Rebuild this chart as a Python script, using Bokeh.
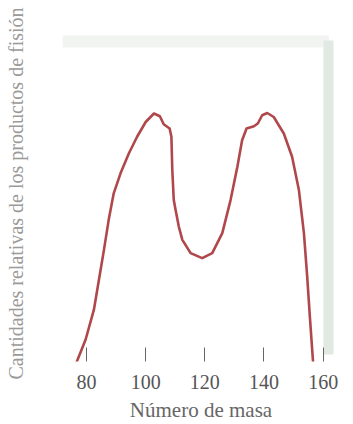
from bokeh.plotting import figure
from bokeh.models import FixedTicker, Range1d, BoxAnnotation
from bokeh.embed import file_html
from bokeh.resources import INLINE

# --- data ---
mass = [76.6, 79.7, 82.5, 84.2, 85.9, 87.5, 89.2, 91.5, 94.3, 97.1, 100.0,
        102.8, 104.8, 106.1, 108.1, 108.7, 109.0, 109.5, 110.1, 111.2, 112.4,
        115.2, 119.1, 122.5, 125.9, 128.7, 131.0, 132.6, 134.1, 136.6, 137.9,
        139.4, 141.1, 143.3, 146.7, 149.5, 151.8, 153.5, 154.6, 155.5, 156.6]
amount = [0.0, 9.2, 21.1, 33.1, 45.0, 57.0, 67.6, 75.6, 83.5, 90.2, 96.1,
          99.5, 98.4, 95.2, 93.5, 90.2, 77.0, 64.9, 61.0, 54.3, 49.0,
          43.7, 41.7, 43.7, 51.7, 64.9, 78.2, 88.8, 93.5, 94.4, 95.5,
          98.8, 99.7, 98.1, 91.5, 82.2, 68.9, 51.7, 34.4, 18.4, 0.0]
tick_values = [80, 100, 120, 140, 160]

SERIF = "Liberation Serif"

p = figure(width=353, height=424, output_backend="svg", toolbar_location=None,
           x_range=Range1d(70.53, 166.88), y_range=Range1d(0.4, 134.66),
           min_border_left=58, min_border_right=10, min_border_top=25,
           min_border_bottom=62)
p.outline_line_color = None
p.grid.visible = False
p.background_fill_color = "white"
p.border_fill_color = "white"

# faint background panel edges
p.add_layout(BoxAnnotation(left=71.9, right=162.0, bottom=125.9, top=130.7,
                           fill_color="#f1f4f1", fill_alpha=1, line_color=None,
                           level="underlay"))
p.add_layout(BoxAnnotation(left=160.1, right=163.5, bottom=3.2, top=128.7,
                           fill_color="#e2e9e3", fill_alpha=1, line_color=None,
                           level="underlay"))

p.line(mass, amount, line_color="#b0474b", line_width=2.6, line_join="round")

# x axis
xa = p.xaxis[0]
xa.ticker = FixedTicker(ticks=tick_values)
xa.minor_tick_line_color = None
xa.axis_line_color = None
xa.major_tick_in = 14
xa.major_tick_out = 0
xa.major_tick_line_color = "#666666"
xa.major_tick_line_width = 1
xa.major_label_text_font = SERIF
xa.major_label_text_font_size = "20px"
xa.major_label_text_color = "#555555"
xa.major_label_text_line_height = 0.9
xa.major_label_standoff = 13
xa.axis_label = "Número de masa"
xa.axis_label_text_font = SERIF
xa.axis_label_text_font_size = "21px"
xa.axis_label_text_font_style = "normal"
xa.axis_label_text_color = "#666666"
xa.axis_label_text_line_height = 0.9
xa.axis_label_standoff = 6

# y axis (label only)
ya = p.yaxis[0]
ya.ticker = FixedTicker(ticks=[])
ya.minor_tick_line_color = None
ya.major_tick_line_color = None
ya.major_tick_out = 0
ya.major_tick_in = 0
ya.axis_line_color = None
ya.major_label_text_font_size = "0px"
ya.axis_label = "Cantidades relativas de los productos de fisión"
ya.axis_label_text_font = SERIF
ya.axis_label_text_font_size = "20px"
ya.axis_label_text_font_style = "normal"
ya.axis_label_text_color = "#9a9a9a"
ya.axis_label_standoff = 32

open("out.html", "w").write(file_html(p, INLINE))
